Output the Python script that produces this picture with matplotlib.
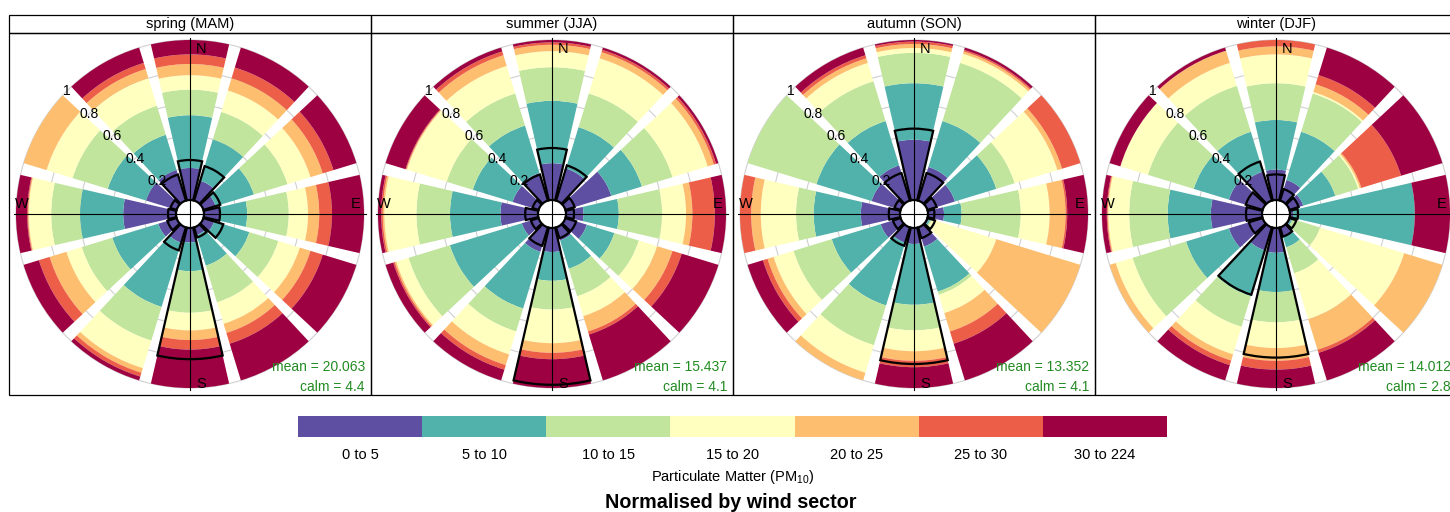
import numpy as np
import matplotlib
matplotlib.use('Agg')
import matplotlib.pyplot as plt
from matplotlib.colors import ListedColormap, BoundaryNorm
from matplotlib.cm import ScalarMappable
from matplotlib.patches import Rectangle

plt.rcParams['font.family'] = ['Liberation Sans', 'DejaVu Sans']
plt.rcParams['mathtext.fontset'] = 'custom'
plt.rcParams['mathtext.rm'] = 'Liberation Sans'
plt.rcParams['mathtext.it'] = 'Liberation Sans:italic'

seasons = ['spring (MAM)', 'summer (JJA)', 'autumn (SON)', 'winter (DJF)']
means = ['20.063', '15.437', '13.352', '14.012']
calms = ['4.4', '4.1', '4.1', '2.8']
directions = np.arange(0, 360, 30)   # N, 30, 60, E, ... 330
bins = ['0 to 5', '5 to 10', '10 to 15', '15 to 20', '20 to 25', '25 to 30', '30 to 224']
colours = ['#5E4FA2', '#51B1AB', '#C2E59D', '#FFFFBF', '#FDBF6F', '#EC5E48', '#9E0142']

# cumulative proportion reached by each band in each sector (top band ends at 1)
spring_cum = [
    [0.20, 0.53, 0.69, 0.78, 0.85, 0.91],
    [0.13, 0.40, 0.58, 0.72, 0.80, 0.87],
    [0.08, 0.33, 0.55, 0.70, 0.78, 0.85],
    [0.10, 0.27, 0.53, 0.65, 0.72, 0.80],
    [0.07, 0.30, 0.49, 0.63, 0.70, 0.78],
    [0.05, 0.25, 0.49, 0.63, 0.69, 0.76],
    [0.09, 0.27, 0.53, 0.64, 0.70, 0.76],
    [0.10, 0.52, 0.74, 0.92, 0.95, 0.975],
    [0.12, 0.42, 0.62, 0.72, 0.83, 0.90],
    [0.33, 0.60, 0.78, 0.92, 0.925, 0.93],
    [0.20, 0.45, 0.68, 0.85, 1.00, 1.00],
    [0.20, 0.43, 0.62, 0.80, 0.86, 0.90],
]
summer_cum = [
    [0.23, 0.62, 0.83, 0.93, 0.97, 0.985],
    [0.21, 0.48, 0.70, 0.93, 0.97, 0.985],
    [0.30, 0.50, 0.70, 0.93, 0.97, 0.985],
    [0.11, 0.33, 0.60, 0.75, 0.79, 0.93],
    [0.14, 0.32, 0.48, 0.60, 0.70, 0.76],
    [0.085, 0.27, 0.45, 0.58, 0.68, 0.70],
    [0.15, 0.33, 0.51, 0.72, 0.78, 0.82],
    [0.16, 0.53, 0.68, 0.83, 0.90, 0.93],
    [0.11, 0.58, 0.85, 0.93, 0.94, 0.95],
    [0.235, 0.55, 0.76, 0.96, 0.97, 0.98],
    [0.17, 0.43, 0.60, 0.86, 0.865, 0.87],
    [0.18, 0.49, 0.70, 0.88, 0.95, 0.975],
]
autumn_cum = [
    [0.377, 0.73, 0.92, 0.95, 0.975, 0.99],
    [0.22, 0.52, 0.90, 0.96, 0.975, 0.985],
    [0.18, 0.45, 0.57, 0.85, 0.88, 1.00],
    [0.10, 0.21, 0.58, 0.76, 0.86, 0.87],
    [0.01, 0.02, 0.03, 0.45, 1.00, 1.00],
    [0.125, 0.42, 0.44, 0.56, 0.68, 0.76],
    [0.10, 0.48, 0.64, 0.77, 0.83, 0.87],
    [0.10, 0.51, 0.77, 0.95, 1.00, 1.00],
    [0.13, 0.45, 0.70, 0.83, 0.87, 0.90],
    [0.245, 0.54, 0.65, 0.87, 0.93, 1.00],
    [0.19, 0.55, 1.00, 1.00, 1.00, 1.00],
    [0.23, 0.52, 0.78, 0.90, 0.93, 0.95],
]
winter_cum = [
    [0.19, 0.50, 0.73, 0.91, 0.96, 1.00],
    [0.135, 0.45, 0.70, 0.71, 0.76, 0.82],
    [0.09, 0.30, 0.45, 0.46, 0.47, 0.73],
    [0.02, 0.78, 0.78, 0.78, 0.78, 0.78],
    [0.01, 0.02, 0.20, 0.75, 1.00, 1.00],
    [0.06, 0.13, 0.30, 0.60, 0.80, 0.82],
    [0.155, 0.40, 0.59, 0.75, 0.83, 0.885],
    [0.15, 0.45, 0.65, 0.83, 0.87, 0.90],
    [0.22, 0.50, 0.85, 0.96, 1.00, 1.00],
    [0.32, 0.59, 0.83, 0.96, 0.965, 0.97],
    [0.22, 0.45, 0.75, 0.93, 0.93, 0.93],
    [0.19, 0.45, 0.75, 0.90, 0.98, 0.98],
]

# wind direction frequency by sector (black outline)
spring_freq = [0.25, 0.225, 0.11, 0.10, 0.13, 0.065, 0.82, 0.15, 0.06, 0.05, 0.04, 0.17]
summer_freq = [0.325, 0.23, 0.06, 0.05, 0.07, 0.07, 0.98, 0.12, 0.05, 0.08, 0.04, 0.17]
autumn_freq = [0.446, 0.18, 0.06, 0.04, 0.05, 0.07, 0.85, 0.12, 0.05, 0.07, 0.04, 0.18]
winter_freq = [0.16, 0.075, 0.06, 0.05, 0.045, 0.06, 0.81, 0.44, 0.09, 0.10, 0.11, 0.255]

all_cum = [spring_cum, summer_cum, autumn_cum, winter_cum]
all_freq = [spring_freq, summer_freq, autumn_freq, winter_freq]

W, H = 1450, 512
UNIT = 160.0           # px per unit proportion
OFFSET = 14 / UNIT     # white hole in the middle
PANEL = 362            # panel size in px
RMAX = (PANEL / 2) / UNIT
theta = np.deg2rad(directions)
width = np.deg2rad(26)


def draw_rose(ax, cum, freq, name, mean, calm):
    ax.set_theta_zero_location('N')
    ax.set_theta_direction(-1)
    ax.set_ylim(0, RMAX)
    ax.set_axis_off()

    # faint grid circles, only visible in the gaps
    circ = np.linspace(0, 2 * np.pi, 361)
    for v in [0.2, 0.4, 0.6, 0.8, 1.0]:
        ax.plot(circ, np.full_like(circ, OFFSET + v), color='#D0D0D0', lw=0.8, zorder=0)

    cum = np.column_stack([np.array(cum), np.ones(len(cum))])
    lower = np.column_stack([np.zeros(len(cum)), cum[:, :-1]])
    for k in range(cum.shape[1]):
        ax.bar(theta, cum[:, k] - lower[:, k], width=width, bottom=OFFSET + lower[:, k],
               color=colours[k], edgecolor='none', linewidth=0, zorder=1)

    # cross hair
    for t in [0, 0.5 * np.pi, np.pi, 1.5 * np.pi]:
        ax.plot([t, t], [0, 176 / UNIT], color='black', lw=0.8, zorder=2)

    ax.bar(theta, freq, width=width, bottom=OFFSET, fill=False,
           edgecolor='black', linewidth=1.6, zorder=3)

    for v, lab in zip([0.2, 0.4, 0.6, 0.8, 1.0], ['0.2', '0.4', '0.6', '0.8', '1']):
        ax.text(np.deg2rad(315), OFFSET + v, lab, ha='center', va='center',
                fontsize=10, zorder=4)

    tr = ax.transAxes
    ax.text(0.5 + 11 / PANEL, 0.5 + 165 / PANEL, 'N', transform=tr, ha='center', va='center', fontsize=10.5)
    ax.text(0.5 + 166 / PANEL, 0.5 + 10 / PANEL, 'E', transform=tr, ha='center', va='center', fontsize=10.5)
    ax.text(0.5 + 11 / PANEL, 0.5 - 170 / PANEL, 'S', transform=tr, ha='center', va='center', fontsize=10.5)
    ax.text(0.5 - 168 / PANEL, 0.5 + 10 / PANEL, 'W', transform=tr, ha='center', va='center', fontsize=10.5)

    ax.text(1 - 6 / PANEL, 28 / PANEL, 'mean = ' + mean, transform=tr, ha='right', va='center',
            color='forestgreen', fontsize=10)
    ax.text(1 - 6 / PANEL, 8 / PANEL, 'calm = ' + calm, transform=tr, ha='right', va='center',
            color='forestgreen', fontsize=10)

    # panel frame and strip
    ax.add_patch(Rectangle((0, 0), 1, 1, transform=tr, fill=False, lw=0.9,
                           edgecolor='black', clip_on=False))
    ax.add_patch(Rectangle((0, 1), 1, 18 / PANEL, transform=tr, fill=False, lw=0.9,
                           edgecolor='black', clip_on=False))
    ax.text(0.5, 1 + 9 / PANEL, name, transform=tr, ha='center', va='center', fontsize=10.5)


fig = plt.figure(figsize=(W / 100, H / 100), dpi=100)

for i in range(4):
    ax = fig.add_axes([(9 + PANEL * i) / W, (H - 395) / H, PANEL / W, PANEL / H], projection='polar')
    draw_rose(ax, all_cum[i], all_freq[i], seasons[i], means[i], calms[i])

# legend bar
cax = fig.add_axes([298 / W, (H - 437) / H, 869 / W, 21 / H])
norm = BoundaryNorm(np.arange(8), 7)
cb = fig.colorbar(ScalarMappable(norm=norm, cmap=ListedColormap(colours)), cax=cax,
                  orientation='horizontal', ticks=np.arange(7) + 0.5)
cb.set_ticklabels(bins)
cb.outline.set_visible(False)
cax.minorticks_off()
cax.tick_params(which='both', length=0, labelsize=10.5, pad=8)
cb.set_label('Particulate Matter (PM$_{10}$)', fontsize=10.5, labelpad=4)

fig.text(731 / W, (H - 502) / H, 'Normalised by wind sector', ha='center', va='center',
         fontsize=14.2, fontweight='bold')

fig.savefig('out.png', dpi=100, facecolor='white')
